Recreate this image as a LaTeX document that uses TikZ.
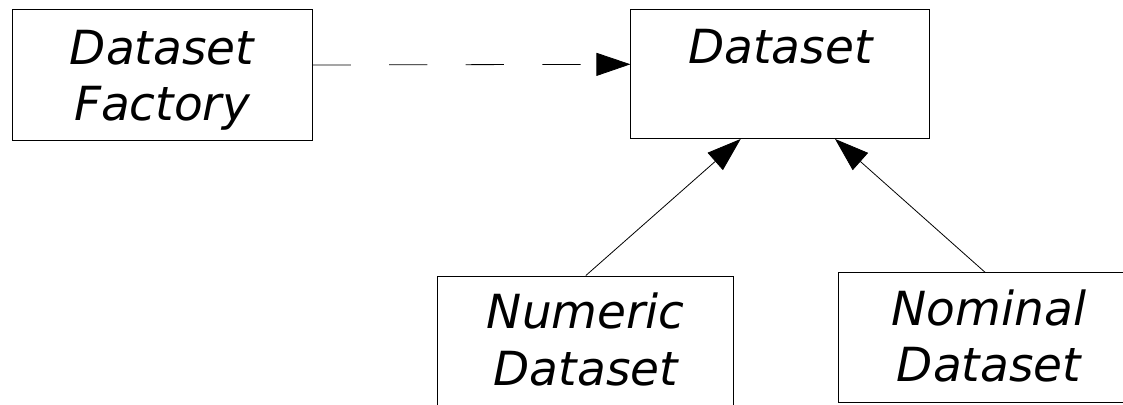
\documentclass[tikz,border=0pt]{standalone}
\usepackage{fontspec}
\setmainfont{DejaVu Sans}
\usetikzlibrary{arrows.meta}
\begin{document}
\begin{tikzpicture}[x=1pt,y=-1pt,
  box/.style={draw=black, line width=0.9pt, rectangle, inner sep=0pt, fill=white},
  lbl/.style={inner sep=0pt, anchor=base, font=\fontsize{47}{56}\selectfont\itshape},
  conn/.style={draw=black, line width=0.8pt},
  head/.style={-{Triangle[length=34pt, width=23pt]}},
]
\useasboundingbox (0,0) rectangle (1123,404);
% boxes
\node[box, minimum width=300pt, minimum height=131pt] (fac) at (162,74.7) {};
\node[box, minimum width=299pt, minimum height=129pt] (ds) at (780.4,74) {};
\node[box, minimum width=296pt, minimum height=130pt] (num) at (585.8,341) {};
\node[box, minimum width=302pt, minimum height=130pt] (nom) at (989,337.7) {};
% labels
\node[lbl] (facA) at (162,64) {Dataset};
\node[lbl] (facB) at (162,120) {Factory};
\node[lbl] (dsA) at (780.4,63.3) {Dataset};
\node[lbl] (numA) at (585.8,328.3) {Numeric};
\node[lbl] (numB) at (585.8,385) {Dataset};
\node[lbl] (nomA) at (989,325) {Nominal};
\node[lbl] (nomB) at (989,381.7) {Dataset};
% connectors
\draw[conn, head, dash pattern=on 38.3pt off 38.3pt] ([yshift=9.7pt]fac.east) -- ([yshift=9.7pt]ds.west);
\draw[conn, head] (num.north) -- ([xshift=-39.7pt]ds.south);
\draw[conn, head] ([xshift=-4pt]nom.north) -- ([xshift=54.6pt]ds.south);
\end{tikzpicture}
\end{document}
